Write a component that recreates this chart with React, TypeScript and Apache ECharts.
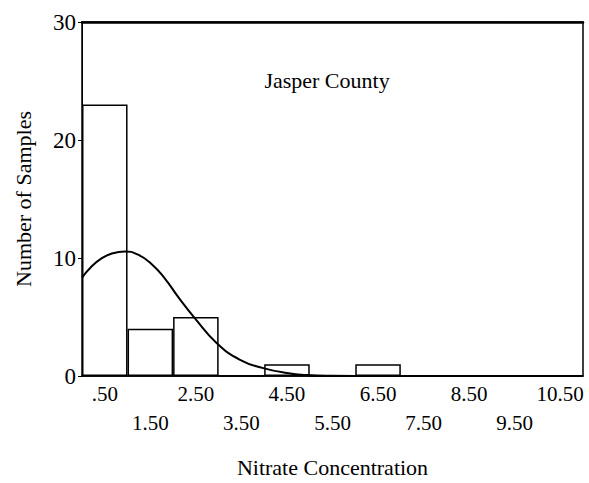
import React, { useEffect, useRef } from "react";
import * as echarts from "echarts";

const categories = [".50", "1.50", "2.50", "3.50", "4.50", "5.50", "6.50", "7.50", "8.50", "9.50", "10.50"];
const counts = [23, 4, 5, 0, 1, 0, 1, 0, 0, 0, 0];
// normal curve: x in bin units from the left edge (0..11)
const curveX = [0, 0.2, 0.42, 0.64, 0.94, 1.23, 1.52, 1.82, 2.11, 2.48, 2.96, 3.47, 3.98, 4.5, 4.94, 5.5, 6.5, 8, 11];
const curveY = [8.34, 9.24, 9.94, 10.36, 10.56, 10.28, 9.52, 8.26, 6.71, 4.89, 2.78, 1.37, 0.67, 0.25, 0.08, 0.02, 0, 0, 0];
const yTicks = { min: 0, max: 30, interval: 10 };
const title = "Jasper County";
const xName = "Nitrate Concentration";
const yName = "Number of Samples";

const FONT = "'Liberation Serif', 'Times New Roman', serif";

export default function App() {
  const ref = useRef<HTMLDivElement>(null);
  useEffect(() => {
    if (!ref.current) return;
    const chart = echarts.init(ref.current, null, { renderer: "svg" });
    chart.setOption({
      animation: false,
      backgroundColor: "#ffffff",
      textStyle: { fontFamily: FONT, color: "#000" },
      grid: {
        left: 82,
        top: 22,
        right: 6,
        bottom: 105,
        show: true,
        borderColor: "#000",
        borderWidth: 1.5,
        backgroundColor: "transparent",
      },
      graphic: [
        {
          type: "text",
          x: 327,
          y: 80,
          style: {
            text: title,
            fontFamily: FONT,
            fontSize: 22,
            fill: "#000",
            textAlign: "center",
            textVerticalAlign: "middle",
          },
        },
      ],
      xAxis: [
        {
          type: "category",
          data: categories,
          position: "bottom",
          boundaryGap: true,
          axisLine: { show: true, lineStyle: { color: "#000", width: 1.5 } },
          axisTick: { show: false },
          axisLabel: {
            interval: 0,
            fontFamily: FONT,
            fontSize: 21,
            color: "#000",
            margin: 3.5,
            lineHeight: 29,
            formatter: (v: string, i: number) => (i % 2 === 1 ? "\n" + v : v),
          },
          splitLine: { show: false },
          name: xName,
          nameLocation: "middle",
          nameGap: 80,
          nameTextStyle: { fontFamily: FONT, fontSize: 22, color: "#000" },
        },
        {
          type: "value",
          min: 0,
          max: 11,
          position: "top",
          axisLine: { show: true, lineStyle: { color: "#000", width: 2.5 } },
          axisTick: { show: false },
          axisLabel: { show: false },
          splitLine: { show: false },
        },
      ],
      yAxis: {
        type: "value",
        min: yTicks.min,
        max: yTicks.max,
        interval: yTicks.interval,
        axisLine: { show: true, lineStyle: { color: "#000", width: 1 } },
        axisTick: { show: true, inside: false, length: 4, lineStyle: { color: "#000", width: 1 } },
        axisLabel: { fontFamily: FONT, fontSize: 23, color: "#000", margin: 6 },
        splitLine: { show: false },
        name: yName,
        nameLocation: "middle",
        nameGap: 48,
        nameTextStyle: { fontFamily: FONT, fontSize: 22, color: "#000" },
      },
      series: [
        {
          type: "bar",
          xAxisIndex: 0,
          data: counts,
          barWidth: "100%",
          barCategoryGap: "0%",
          itemStyle: { color: "#fff", borderColor: "#000", borderWidth: 1.5 },
          silent: true,
        },
        {
          type: "line",
          xAxisIndex: 1,
          data: curveX.map((x, i) => [x, curveY[i]]),
          smooth: true,
          showSymbol: false,
          symbol: "none",
          lineStyle: { color: "#000", width: 2 },
          z: 5,
          silent: true,
        },
      ],
    });
    return () => chart.dispose();
  }, []);
  return (
    <div
      ref={ref}
      style={{ position: "fixed", left: 0, top: 0, width: 589, height: 483, background: "#fff" }}
    />
  );
}
